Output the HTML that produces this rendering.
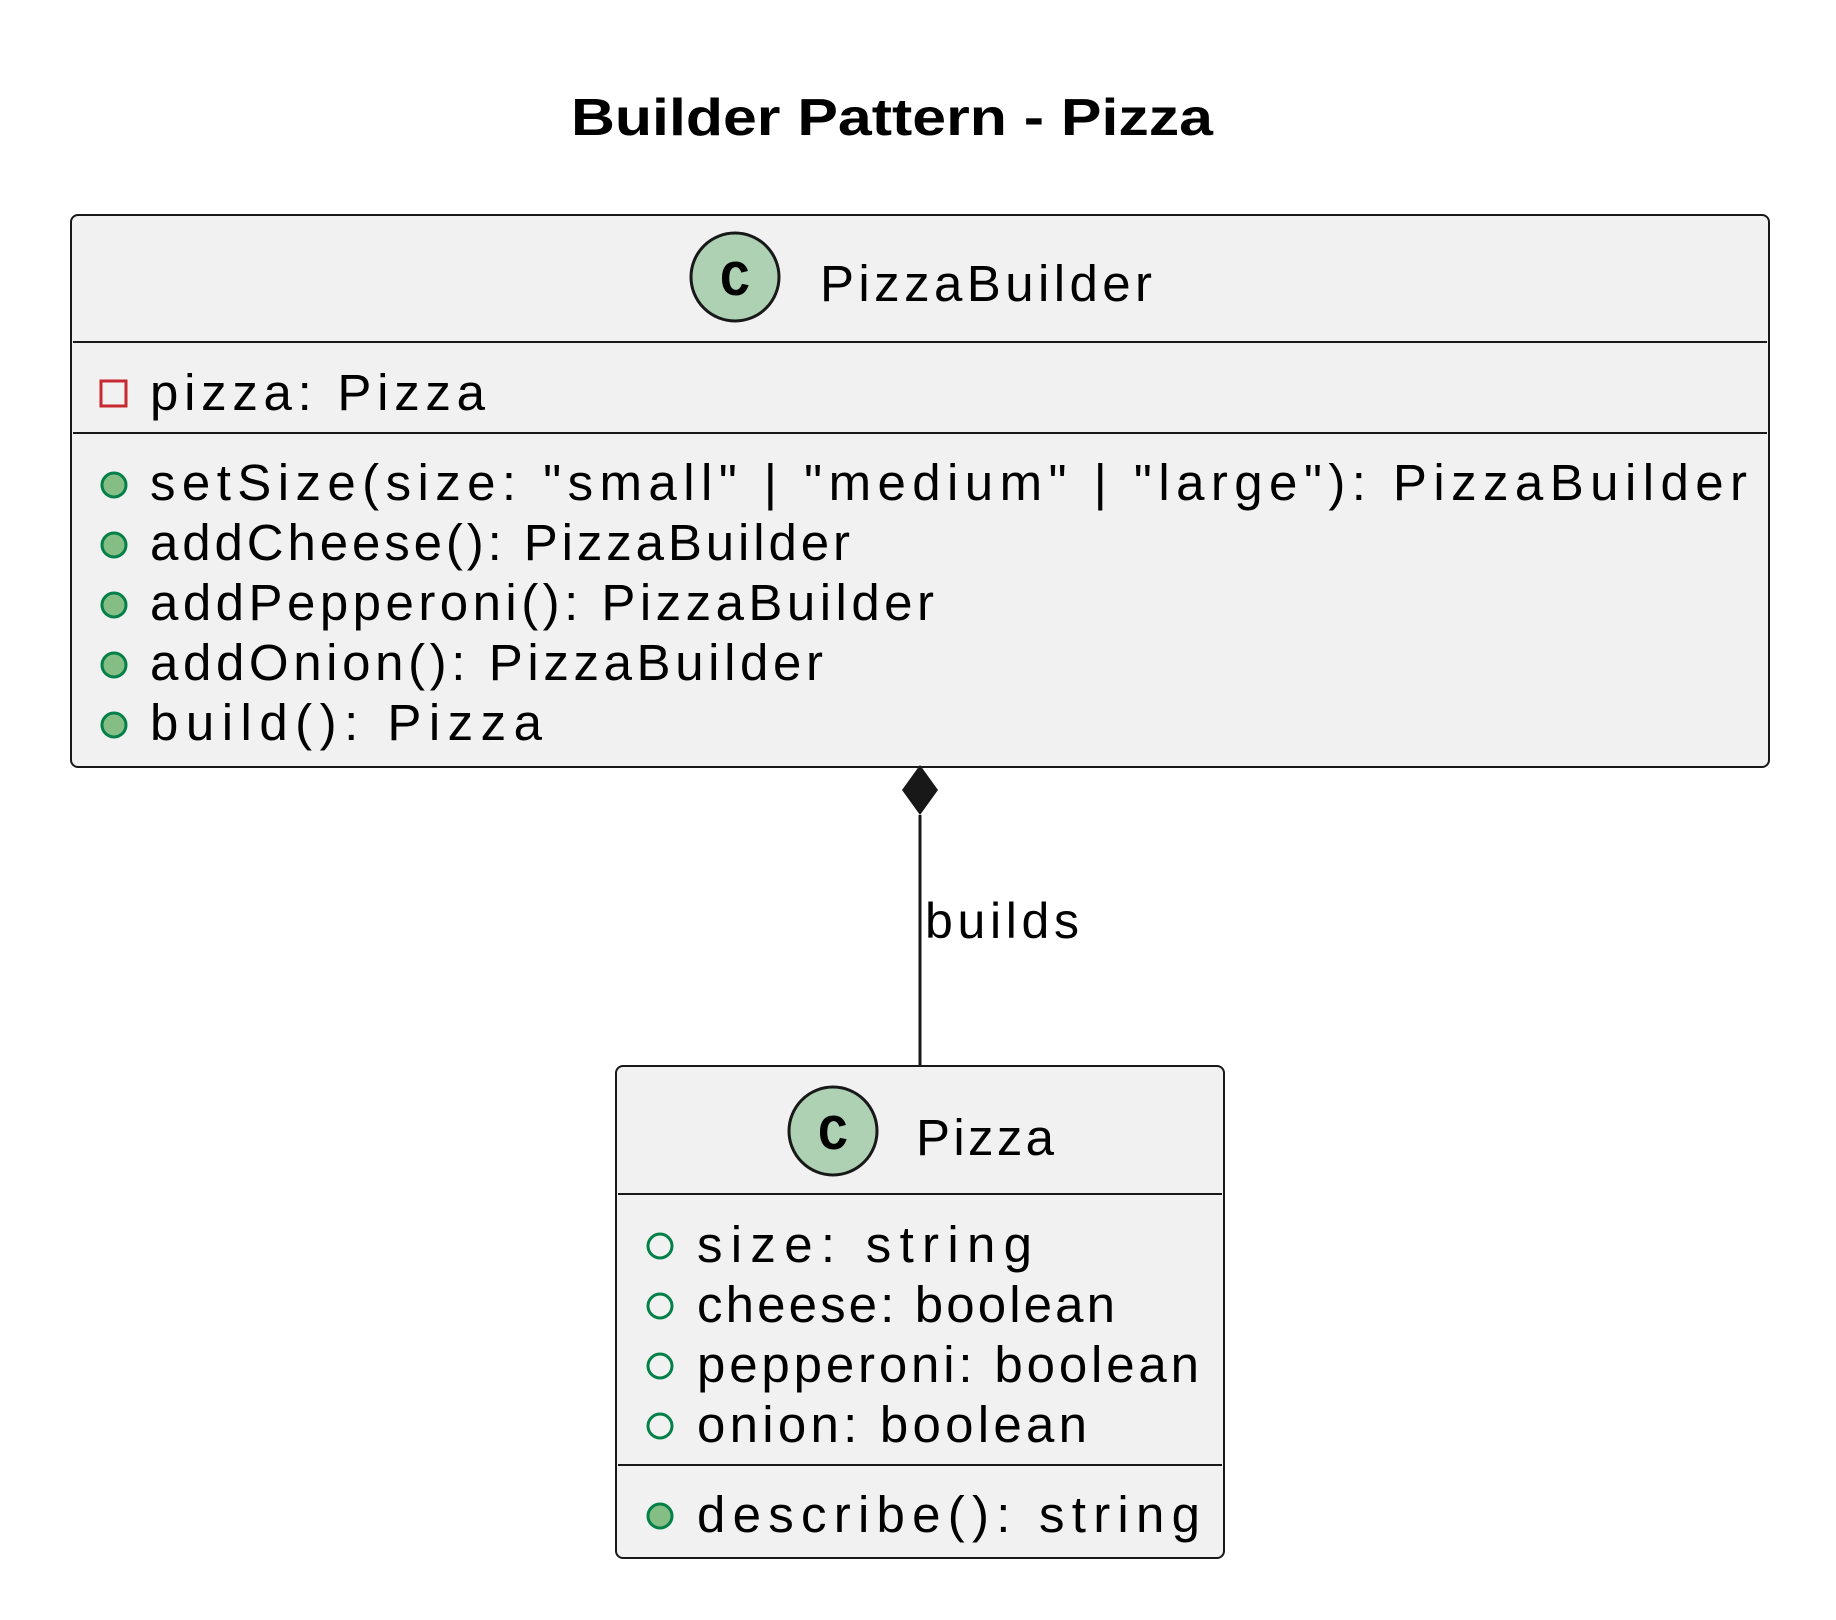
<!DOCTYPE html>
<html><head><meta charset="utf-8"><style>html,body{margin:0;padding:0;background:#fff}svg{display:block}</style></head>
<body>
<svg width="1836" height="1620" viewBox="0 0 1836 1620" xmlns="http://www.w3.org/2000/svg" font-family="Liberation Sans, Arial, sans-serif">
<text x="571" y="135" font-size="52" font-weight="bold" textLength="642" lengthAdjust="spacingAndGlyphs">Builder Pattern - Pizza</text>

<rect x="71" y="215" width="1698" height="552" rx="7" fill="#F1F1F1" stroke="#181818" stroke-width="2"/>
<circle cx="735" cy="277" r="44" fill="#ADD1B2" stroke="#181818" stroke-width="3"/>
<text x="735" y="295" font-size="50" font-weight="bold" font-family="Liberation Mono, monospace" text-anchor="middle">C</text>
<text x="820" y="301" font-size="51" textLength="332" lengthAdjust="spacing">PizzaBuilder</text>
<line x1="73" y1="342" x2="1767" y2="342" stroke="#181818" stroke-width="2"/>
<rect x="101" y="381" width="25" height="25" fill="none" stroke="#C82930" stroke-width="3"/>
<text x="150" y="410" font-size="51" textLength="335" lengthAdjust="spacing">pizza: Pizza</text>
<line x1="73" y1="433" x2="1767" y2="433" stroke="#181818" stroke-width="2"/>
<g fill="#84BE84" stroke="#038048" stroke-width="3">
<circle cx="114" cy="485" r="12"/><circle cx="114" cy="545" r="12"/><circle cx="114" cy="605" r="12"/><circle cx="114" cy="665" r="12"/><circle cx="114" cy="725" r="12"/>
</g>
<g font-size="51">
<text x="150" y="500" textLength="1597" lengthAdjust="spacing">setSize(size: "small" | "medium" | "large"): PizzaBuilder</text>
<text x="150" y="560" textLength="700" lengthAdjust="spacing">addCheese(): PizzaBuilder</text>
<text x="150" y="620" textLength="784" lengthAdjust="spacing">addPepperoni(): PizzaBuilder</text>
<text x="150" y="680" textLength="673" lengthAdjust="spacing">addOnion(): PizzaBuilder</text>
<text x="150" y="740" textLength="392" lengthAdjust="spacing">build(): Pizza</text>
</g>

<line x1="920" y1="815" x2="920" y2="1067" stroke="#181818" stroke-width="3"/>
<polygon points="920,765 938,790 920,815 902,790" fill="#181818"/>
<text x="925" y="938" font-size="50" textLength="154" lengthAdjust="spacing">builds</text>

<rect x="616" y="1066" width="608" height="492" rx="7" fill="#F1F1F1" stroke="#181818" stroke-width="2"/>
<circle cx="833" cy="1131" r="44" fill="#ADD1B2" stroke="#181818" stroke-width="3"/>
<text x="833" y="1149" font-size="50" font-weight="bold" font-family="Liberation Mono, monospace" text-anchor="middle">C</text>
<text x="916" y="1155" font-size="51" textLength="138" lengthAdjust="spacing">Pizza</text>
<line x1="618" y1="1194" x2="1222" y2="1194" stroke="#181818" stroke-width="2"/>
<g fill="none" stroke="#038048" stroke-width="3">
<circle cx="660" cy="1246" r="12"/><circle cx="660" cy="1306" r="12"/><circle cx="660" cy="1366" r="12"/><circle cx="660" cy="1426" r="12"/>
</g>
<circle cx="660" cy="1516" r="12" fill="#84BE84" stroke="#038048" stroke-width="3"/>
<g font-size="51">
<text x="697" y="1262" textLength="335" lengthAdjust="spacing">size: string</text>
<text x="697" y="1322" textLength="418" lengthAdjust="spacing">cheese: boolean</text>
<text x="697" y="1382" textLength="502" lengthAdjust="spacing">pepperoni: boolean</text>
<text x="697" y="1442" textLength="390" lengthAdjust="spacing">onion: boolean</text>
</g>
<line x1="618" y1="1465" x2="1222" y2="1465" stroke="#181818" stroke-width="2"/>
<text x="697" y="1532" font-size="51" textLength="503" lengthAdjust="spacing">describe(): string</text>
</svg>
</body></html>
